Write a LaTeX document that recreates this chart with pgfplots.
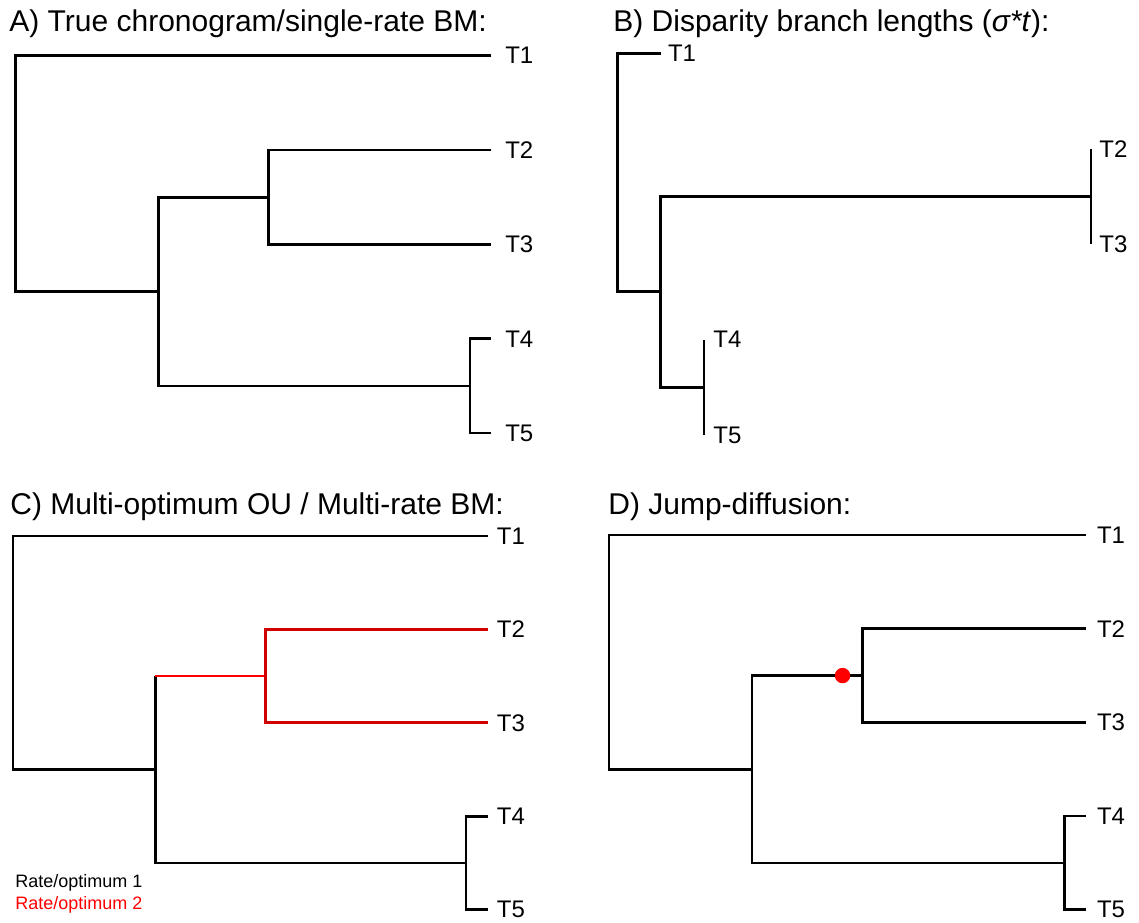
\documentclass[border=0pt]{standalone}
\usepackage{fontspec}
\setmainfont{Liberation Sans}
\usepackage{pgfplots}
\pgfplotsset{compat=1.18}

% one picture pixel
\newlength\pxu
\setlength\pxu{0.5pt}

\definecolor{regimeA}{HTML}{000000}
\definecolor{regimeB}{HTML}{FF0000}
\definecolor{regimeBdark}{HTML}{D00000}
\definecolor{jump}{HTML}{FF0000}

\newcommand\titlefont{\fontsize{15}{17}\selectfont}
\newcommand\tipfont{\fontsize{12}{14}\selectfont}
\newcommand\legfont{\fontsize{9}{11}\selectfont}

\pgfplotsset{
  phylo/.style={hide axis, clip=false, scale only axis,
    xmin=0, xmax=1, ymin=1, ymax=5, y dir=reverse, anchor=north west},
  branch/.style={regimeA, line width=1.35pt, line cap=butt, line join=miter, mark=none},
}
\tikzset{tiplab/.style={anchor=west, inner sep=0pt, font=\tipfont}}

\begin{document}
\begin{tikzpicture}
\path[use as bounding box] (0,0) rectangle (1139*\pxu,-922*\pxu);

% panel titles
\node[anchor=base west, inner sep=0pt, font=\titlefont] at (9*\pxu,-31*\pxu) {A) True chronogram/single-rate BM:};
\node[anchor=base west, inner sep=0pt, font=\titlefont] at (613*\pxu,-31*\pxu) {B) Disparity branch lengths (\textit{σ*t}):};
\node[anchor=base west, inner sep=0pt, font=\titlefont] at (10*\pxu,-514*\pxu) {C) Multi-optimum OU / Multi-rate BM:};
\node[anchor=base west, inner sep=0pt, font=\titlefont] at (608*\pxu,-514*\pxu) {D) Jump-diffusion:};

% ---- A: ultrametric tree, node ages scaled to root-to-tip = 1
\begin{axis}[phylo, x=238pt, y=47.175pt, at={(15.4*\pxu,-55.7*\pxu)}]
\addplot[branch] coordinates {(1,1) (0,1) (0,3.5) (0.300,3.5)};
\addplot[branch] coordinates {(0.532,2.5) (0.300,2.5) (0.300,4.5) (0.955,4.5)};
\addplot[branch] coordinates {(1,2) (0.532,2) (0.532,3) (1,3)};
\addplot[branch] coordinates {(1,4) (0.955,4) (0.955,5) (1,5)};
\node[tiplab, xshift=13.5*\pxu] at (axis cs:1,1) {T1};
\node[tiplab, xshift=13.5*\pxu] at (axis cs:1,2) {T2};
\node[tiplab, xshift=13.5*\pxu] at (axis cs:1,3) {T3};
\node[tiplab, xshift=13.5*\pxu] at (axis cs:1,4) {T4};
\node[tiplab, xshift=13.5*\pxu] at (axis cs:1,5) {T5};
\end{axis}

% ---- B: branch lengths = rate x time
\begin{axis}[phylo, x=238pt, y=47.7pt, at={(617.3*\pxu,-53.3*\pxu)}]
\addplot[branch] coordinates {(0.091,1) (0,1) (0,3.5) (0.091,3.5)};
\addplot[branch] coordinates {(0.995,2.5) (0.091,2.5) (0.091,4.5) (0.182,4.5)};
\addplot[branch] coordinates {(0.995,2) (0.995,3)};
\addplot[branch] coordinates {(0.182,4) (0.182,5)};
\node[tiplab, xshift=7*\pxu] at (axis cs:0.091,1) {T1};
\node[tiplab, xshift=8*\pxu] at (axis cs:0.995,2) {T2};
\node[tiplab, xshift=8*\pxu] at (axis cs:0.995,3) {T3};
\node[tiplab, xshift=9*\pxu] at (axis cs:0.182,4) {T4};
\node[tiplab, xshift=9*\pxu] at (axis cs:0.182,5) {T5};
\end{axis}

% ---- C: two regimes painted on the tree
\begin{axis}[phylo, x=237.3pt, y=46.7pt, at={(12.9*\pxu,-536*\pxu)}]
\addplot[branch] coordinates {(1,1) (0,1) (0,3.5) (0.300,3.5)};
\addplot[branch] coordinates {(0.300,2.5) (0.300,4.5) (0.955,4.5)};
\addplot[branch] coordinates {(1,4) (0.955,4) (0.955,5) (1,5)};
\addplot[branch, regimeB] coordinates {(0.300,2.5) (0.532,2.5)};
\addplot[branch, regimeBdark] coordinates {(1,2) (0.532,2) (0.532,3) (1,3)};
\node[tiplab, xshift=9*\pxu] at (axis cs:1,1) {T1};
\node[tiplab, xshift=9*\pxu] at (axis cs:1,2) {T2};
\node[tiplab, xshift=9*\pxu] at (axis cs:1,3) {T3};
\node[tiplab, xshift=9*\pxu] at (axis cs:1,4) {T4};
\node[tiplab, xshift=9*\pxu] at (axis cs:1,5) {T5};
\end{axis}
\node[anchor=base west, inner sep=0pt, font=\legfont, text=regimeA] at (15*\pxu,-887*\pxu) {Rate/optimum 1};
\node[anchor=base west, inner sep=0pt, font=\legfont, text=regimeB] at (15*\pxu,-909*\pxu) {Rate/optimum 2};

% ---- D: single jump on the branch leading to (T2,T3)
\begin{axis}[phylo, x=238.3pt, y=46.85pt, at={(609*\pxu,-535*\pxu)}]
\addplot[branch] coordinates {(1,1) (0,1) (0,3.5) (0.300,3.5)};
\addplot[branch] coordinates {(0.532,2.5) (0.300,2.5) (0.300,4.5) (0.955,4.5)};
\addplot[branch] coordinates {(1,2) (0.532,2) (0.532,3) (1,3)};
\addplot[branch] coordinates {(1,4) (0.955,4) (0.955,5) (1,5)};
\addplot[only marks, mark=*, mark size=3.65pt, mark options={draw=jump, fill=jump}] coordinates {(0.490,2.5)};
\node[tiplab, xshift=11*\pxu] at (axis cs:1,1) {T1};
\node[tiplab, xshift=11*\pxu] at (axis cs:1,2) {T2};
\node[tiplab, xshift=11*\pxu] at (axis cs:1,3) {T3};
\node[tiplab, xshift=11*\pxu] at (axis cs:1,4) {T4};
\node[tiplab, xshift=11*\pxu] at (axis cs:1,5) {T5};
\end{axis}
\end{tikzpicture}
\end{document}
